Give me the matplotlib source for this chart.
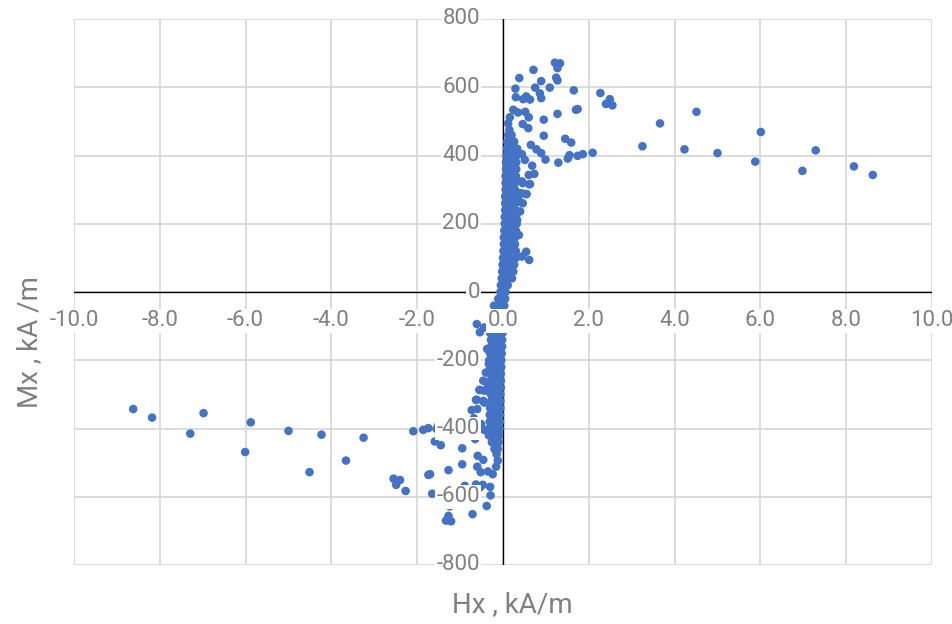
import matplotlib.pyplot as plt
from matplotlib.transforms import offset_copy

# upper branch, sparse points (Hx in kA/m, Mx in kA/m)
hx_up = [1.21, 1.33, 1.27, 0.71, 0.38, 0.89, 1.24, 1.27, 0.29, 0.75, 1.09, 1.65,
         2.27, 2.49, 2.40, 2.55, 0.86, 0.89, 0.63, 0.47, 0.54, 0.30, 0.24, 0.35,
         0.52, 0.60, 0.95, 1.27, 1.70, 1.74, 4.51, 3.66, 6.01, 3.25, 4.23, 5.00,
         5.88, 6.98, 7.29, 8.18, 8.62, 0.95, 1.45, 1.59, 0.65, 0.78, 0.89, 0.99,
         1.29, 1.51, 1.55, 1.74, 1.86, 2.09, 0.44, 0.51, 0.68, 0.60, 0.73, 0.61,
         0.46, 0.44, 0.55, 0.59, 0.46, 0.16, 0.12, 0.15, 0.24, 0.32, 0.44, 0.63,
         0.40, 0.54, 0.36, 0.46, 0.40, 0.33, 0.37, 0.54, 0.61, 0.44, 0.24]
mx_up = [672, 670, 656, 651, 627, 618, 628, 620, 596, 599, 599, 591,
         583, 565, 551, 547, 582, 568, 564, 565, 573, 571, 534, 526,
         528, 512, 505, 522, 534, 536, 528, 494, 469, 427, 418, 407,
         382, 355, 415, 368, 343, 458, 449, 438, 431, 418, 407, 388,
         379, 391, 401, 399, 404, 408, 404, 387, 370, 343, 346, 316,
         319, 289, 287, 480, 492, 512, 494, 475, 441, 414, 324, 316,
         289, 287, 270, 260, 236, 211, 167, 118, 94, 104, 84]

# upper branch, dense core near Hx = 0
core_hx_up = [0.12, 0.20,
              0.10, 0.18, 0.26,
              0.09, 0.17, 0.25, 0.33,
              0.08, 0.16, 0.24, 0.32,
              0.07, 0.15, 0.23, 0.31,
              0.07, 0.15, 0.23, 0.31,
              0.06, 0.14, 0.22, 0.30,
              0.06, 0.14, 0.22, 0.28,
              0.06, 0.14, 0.22, 0.28,
              0.05, 0.13, 0.21, 0.28,
              0.05, 0.13, 0.21, 0.29,
              0.05, 0.13, 0.21, 0.30,
              0.04, 0.12, 0.20, 0.30,
              0.04, 0.12, 0.20, 0.32,
              0.03, 0.11, 0.19, 0.30,
              0.02, 0.10, 0.18, 0.28,
              0.02, 0.10, 0.18, 0.28,
              0.01, 0.09, 0.17, 0.30,
              0.00, 0.08, 0.16, 0.30,
              -0.01, 0.07, 0.15, 0.26,
              -0.02, 0.06, 0.14, 0.24,
              -0.03, 0.05, 0.13, 0.21,
              -0.05, 0.03, 0.11,
              -0.06, 0.02]
core_mx_up = [460, 460,
              440, 440, 440,
              420, 420, 420, 420,
              400, 400, 400, 400,
              380, 380, 380, 380,
              360, 360, 360, 360,
              340, 340, 340, 340,
              320, 320, 320, 320,
              300, 300, 300, 300,
              280, 280, 280, 280,
              260, 260, 260, 260,
              240, 240, 240, 240,
              220, 220, 220, 220,
              200, 200, 200, 200,
              180, 180, 180, 180,
              160, 160, 160, 160,
              140, 140, 140, 140,
              120, 120, 120, 120,
              100, 100, 100, 100,
              80, 80, 80, 80,
              60, 60, 60, 60,
              40, 40, 40, 40,
              20, 20, 20,
              0, 0]

# lower branch, sparse points
hx_dn = [-1.21, -1.33, -1.27, -0.71, -0.38, -0.89, -1.24, -1.27, -0.29, -0.75, -1.09, -1.65,
         -2.27, -2.49, -2.40, -2.55, -0.86, -0.89, -0.63, -0.47, -0.54, -0.30, -0.24, -0.35,
         -0.52, -0.60, -0.95, -1.27, -1.70, -1.74, -4.51, -3.66, -6.01, -3.25, -4.23, -5.00,
         -5.88, -6.98, -7.29, -8.18, -8.62, -0.95, -1.45, -1.59, -0.65, -0.78, -0.89, -0.99,
         -1.29, -1.51, -1.55, -1.74, -1.86, -2.09, -0.44, -0.51, -0.68, -0.60, -0.73, -0.61,
         -0.46, -0.44, -0.55, -0.59, -0.46, -0.16, -0.12, -0.15, -0.24, -0.32, -0.44, -0.63,
         -0.40, -0.54, -0.36, -0.46, -0.40, -0.33, -0.37, -0.54, -0.61, -0.44, -0.24]
mx_dn = [-672, -670, -656, -651, -627, -618, -628, -620, -596, -599, -599, -591,
         -583, -565, -551, -547, -582, -568, -564, -565, -573, -571, -534, -526,
         -528, -512, -505, -522, -534, -536, -528, -494, -469, -427, -418, -407,
         -382, -355, -415, -368, -343, -458, -449, -438, -431, -418, -407, -388,
         -379, -391, -401, -399, -404, -408, -404, -387, -370, -343, -346, -316,
         -319, -289, -287, -480, -492, -512, -494, -475, -441, -414, -324, -316,
         -289, -287, -270, -260, -236, -211, -167, -118, -94, -104, -84]

# lower branch, dense core
core_hx_dn = [-0.12, -0.20,
              -0.10, -0.18, -0.26,
              -0.09, -0.17, -0.25, -0.33,
              -0.08, -0.16, -0.24, -0.32,
              -0.07, -0.15, -0.23, -0.31,
              -0.07, -0.15, -0.23, -0.31,
              -0.06, -0.14, -0.22, -0.30,
              -0.06, -0.14, -0.22, -0.28,
              -0.06, -0.14, -0.22, -0.28,
              -0.05, -0.13, -0.21, -0.28,
              -0.05, -0.13, -0.21, -0.29,
              -0.05, -0.13, -0.21, -0.30,
              -0.04, -0.12, -0.20, -0.30,
              -0.04, -0.12, -0.20, -0.32,
              -0.03, -0.11, -0.19, -0.30,
              -0.02, -0.10, -0.18, -0.28,
              -0.02, -0.10, -0.18, -0.28,
              -0.01, -0.09, -0.17, -0.30,
              0.00, -0.08, -0.16, -0.30,
              0.01, -0.07, -0.15, -0.26,
              0.02, -0.06, -0.14, -0.24,
              0.03, -0.05, -0.13, -0.21,
              0.05, -0.03, -0.11,
              0.06, -0.02]
core_mx_dn = [-460, -460,
              -440, -440, -440,
              -420, -420, -420, -420,
              -400, -400, -400, -400,
              -380, -380, -380, -380,
              -360, -360, -360, -360,
              -340, -340, -340, -340,
              -320, -320, -320, -320,
              -300, -300, -300, -300,
              -280, -280, -280, -280,
              -260, -260, -260, -260,
              -240, -240, -240, -240,
              -220, -220, -220, -220,
              -200, -200, -200, -200,
              -180, -180, -180, -180,
              -160, -160, -160, -160,
              -140, -140, -140, -140,
              -120, -120, -120, -120,
              -100, -100, -100, -100,
              -80, -80, -80, -80,
              -60, -60, -60, -60,
              -40, -40, -40, -40,
              -20, -20, -20,
              0, 0]

x_ticks = [-10, -8, -6, -4, -2, 0, 2, 4, 6, 8, 10]
y_ticks = [-800, -600, -400, -200, 0, 200, 400, 600, 800]

dot_color = '#4472C4'
text_color = '#808080'
grid_color = '#d9d9d9'
plt.rcParams['font.family'] = ['Roboto', 'DejaVu Sans']

fig = plt.figure(figsize=(9.53, 6.24), dpi=100)
ax = fig.add_axes([74 / 953, 1 - 565 / 624, (932 - 74) / 953, (565 - 19) / 624])
ax.set_xlim(-10, 10)
ax.set_ylim(-800, 800)
ax.axis('off')

for xv in x_ticks:
    ax.axvline(xv, color=grid_color, lw=1.3, zorder=0)
for yv in y_ticks:
    ax.axhline(yv, color=grid_color, lw=1.3, zorder=0)
ax.axhline(0, color='black', lw=1, zorder=1)
ax.axvline(0, color='black', lw=1, zorder=1)

for hx, mx in [(core_hx_up, core_mx_up), (hx_up, mx_up),
               (core_hx_dn, core_mx_dn), (hx_dn, mx_dn)]:
    ax.scatter(hx, mx, s=38, color=dot_color, edgecolors='none', zorder=2)

box = dict(facecolor='white', edgecolor='none', pad=1)
ytr = offset_copy(ax.transData, fig=fig, x=-23, y=0, units='dots')
for yv in y_ticks:
    ax.text(0, yv, f'{yv}', transform=ytr, ha='right', va='center',
            fontsize=16, color=text_color, bbox=box, zorder=5, clip_on=False)
xtr = offset_copy(ax.transData, fig=fig, x=0, y=-29, units='dots')
for xv in x_ticks:
    ax.text(xv, 0, f'{xv:.1f}', transform=xtr, ha='center', va='center',
            fontsize=16, color=text_color, bbox=box, zorder=5, clip_on=False)

fig.text(512 / 953, 1 - 605 / 624, 'Hx , kA/m', ha='center', va='center',
         fontsize=20, color=text_color)
fig.text(30 / 953, 1 - 342 / 624, 'Mx , kA /m', ha='center', va='center',
         rotation=90, fontsize=20, color=text_color)

fig.savefig('out.png', dpi=100)
